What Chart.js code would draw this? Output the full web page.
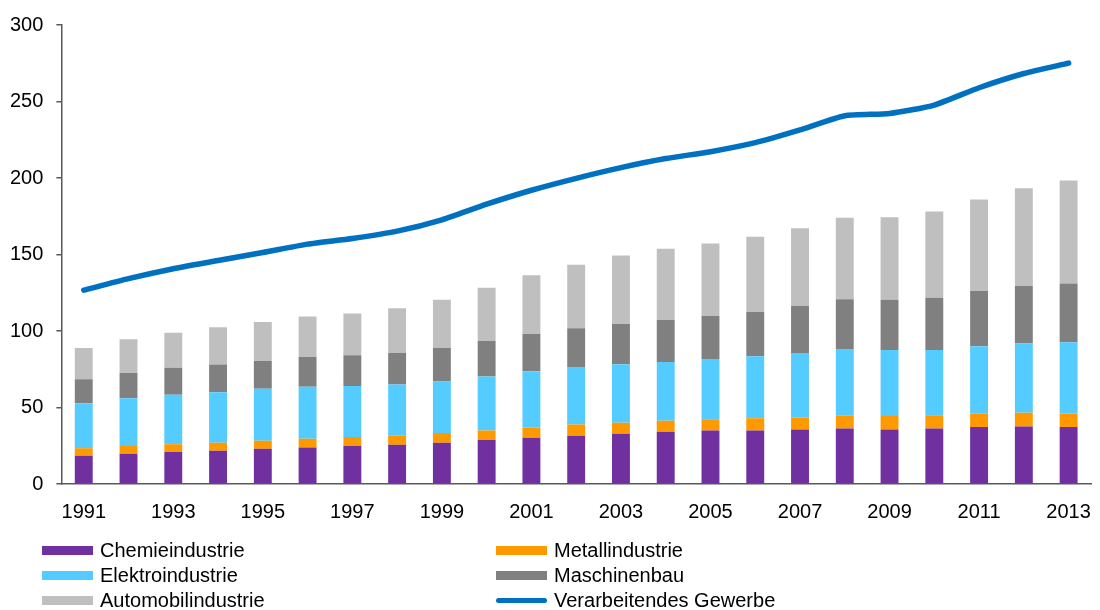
<!DOCTYPE html>
<html>
<head>
<meta charset="utf-8">
<script src="https://cdn.jsdelivr.net/npm/chart.js@4/dist/chart.umd.min.js"></script>
<style>
  body { margin: 0; background: #fff; font-family: "Liberation Sans", Arial, sans-serif; }
  #wrap { position: relative; width: 1100px; height: 610px; }
  #legend { position: absolute; left: 0; top: 538px; width: 1100px; }
  .item { position: absolute; height: 24px; line-height: 24px; font-size: 20px; color: #000; white-space: nowrap; }
  .sw { position: absolute; left: 0; width: 51px; }
  .lbl { position: absolute; left: 58px; top: 0; }
</style>
</head>
<body>
<div id="wrap">
  <canvas id="myChart" width="1100" height="610"></canvas>
  <div id="legend"></div>
</div>
<script>
// Jahre
var years = ['1991','1992','1993','1994','1995','1996','1997','1998','1999','2000','2001','2002',
             '2003','2004','2005','2006','2007','2008','2009','2010','2011','2012','2013'];

// Werte (geschätzt aus der Vorlage)
var chemie    = [18.5,19.8,20.9,21.7,23.0,23.9,24.9,25.7,27.0,28.7,30.2,31.5,32.8,34.1,35.0,35.0,35.7,36.3,35.7,36.3,37.2,37.6,37.2];
var metall    = [4.8,5.0,5.0,5.3,5.3,5.7,5.9,5.8,6.3,6.3,6.8,7.4,7.3,7.2,7.4,7.9,7.8,8.3,8.7,8.7,8.7,8.9,8.9];
var elektro   = [29.5,31.3,32.4,33.0,33.9,33.9,33.2,33.5,33.7,35.3,36.7,37.6,38.2,38.5,39.3,40.6,42.2,43.7,43.2,42.6,44.1,45.5,46.5];
var maschinen = [15.7,16.5,17.6,18.1,18.2,19.5,20.2,20.7,21.9,23.2,24.3,25.3,26.3,27.4,28.1,28.9,30.6,32.4,32.9,34.2,36.1,37.4,38.5];
var auto      = [20.4,22.0,23.0,24.3,25.5,26.4,27.2,29.1,31.6,34.8,38.5,41.5,44.8,46.5,47.4,49.2,50.9,53.4,53.9,56.3,59.8,63.9,67.2];
var gewerbe   = [126.7,134.2,140.7,146.1,151.3,156.8,160.5,165.3,172.7,182.9,192.0,199.8,206.8,212.7,217.2,223.1,231.4,240.7,242.2,247.7,259.0,268.3,275.1];

var yTicks = [0, 50, 100, 150, 200, 250, 300];

function bar(label, data, color) {
  return { type: 'bar', label: label, data: data, backgroundColor: color, borderWidth: 0,
           stack: 'branchen', order: 1, barPercentage: 0.4, categoryPercentage: 1.0 };
}

var datasets = [
  bar('Chemieindustrie', chemie, '#7030A0'),
  bar('Metallindustrie', metall, '#FF9900'),
  bar('Elektroindustrie', elektro, '#55CCFF'),
  bar('Maschinenbau', maschinen, '#808080'),
  bar('Automobilindustrie', auto, '#BFBFBF'),
  {
    type: 'line', label: 'Verarbeitendes Gewerbe', data: gewerbe, stack: 'gesamt', order: 0,
    borderColor: '#0070C0', backgroundColor: '#0070C0', borderWidth: 5.5,
    borderCapStyle: 'round', borderJoinStyle: 'round', pointRadius: 0, tension: 0.2, fill: false
  }
];

Chart.defaults.font.family = '"Liberation Sans", Arial, sans-serif';
Chart.defaults.font.size = 20;
Chart.defaults.color = '#000';

var ctx = document.getElementById('myChart').getContext('2d');
var myChart = new Chart(ctx, {
  type: 'bar',
  data: { labels: years, datasets: datasets },
  options: {
    responsive: false,
    animation: false,
    layout: { padding: { left: -3, right: 9, top: 11, bottom: 70 } },
    plugins: { legend: { display: false }, tooltip: { enabled: false } },
    scales: {
      x: {
        stacked: true,
        afterFit: function(axis) { axis.paddingRight = 0; },
        grid: { display: false, drawTicks: false },
        border: { display: true, color: '#595959', width: 1.5 },
        ticks: {
          autoSkip: false, maxRotation: 0, padding: 16,
          callback: function(v, i) { return i % 2 === 0 ? years[i] : ''; }
        }
      },
      y: {
        stacked: true,
        min: 0, max: 300,
        afterBuildTicks: function(axis) { axis.ticks = yTicks.map(function(v) { return { value: v }; }); },
        grid: { drawOnChartArea: false, drawTicks: true, tickLength: 5, color: '#595959', lineWidth: 1.5 },
        border: { display: true, color: '#595959', width: 1.5 },
        ticks: { padding: 13 }
      }
    }
  }
});

// Legende in zwei Spalten
var legendEl = document.getElementById('legend');
datasets.forEach(function(ds, i) {
  var col = i % 2, row = Math.floor(i / 2);
  var item = document.createElement('div');
  item.className = 'item';
  item.style.left = (col === 0 ? 42 : 496) + 'px';
  item.style.top = (row * 25) + 'px';
  var sw = document.createElement('div');
  sw.className = 'sw';
  if (ds.type === 'line') {
    sw.style.height = '5px'; sw.style.top = '10px'; sw.style.borderRadius = '3px';
    sw.style.background = ds.borderColor;
  } else {
    sw.style.height = '9px'; sw.style.top = '8px';
    sw.style.background = ds.backgroundColor;
  }
  var lbl = document.createElement('span');
  lbl.className = 'lbl';
  lbl.textContent = ds.label;
  item.appendChild(sw);
  item.appendChild(lbl);
  legendEl.appendChild(item);
});
</script>
</body>
</html>
